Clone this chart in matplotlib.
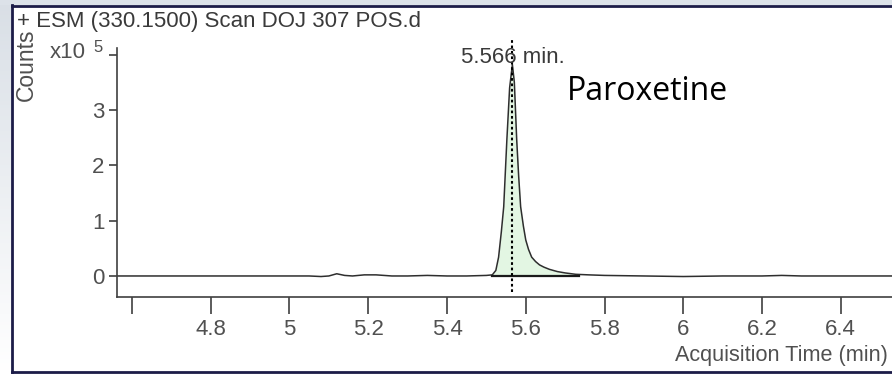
import matplotlib
matplotlib.use('Agg')
import matplotlib.pyplot as plt
import numpy as np

# chromatogram trace, time in minutes, counts in units of 1e5
times = [4.562, 4.7, 4.9, 5.0, 5.05, 5.08, 5.10, 5.12, 5.14, 5.16, 5.19, 5.22, 5.26,
         5.30, 5.35, 5.40, 5.45, 5.50, 5.515, 5.524, 5.531, 5.538, 5.544, 5.552, 5.559,
         5.566, 5.571, 5.577, 5.582, 5.587, 5.594, 5.600, 5.607, 5.615, 5.625, 5.635,
         5.646, 5.66, 5.68, 5.70, 5.727, 5.76, 5.80, 5.90, 6.00, 6.10, 6.20, 6.25, 6.30, 6.53]
counts = [0.0, 0.0, 0.0, 0.0, 0.0, -0.01, 0.0, 0.04, 0.01, 0.0, 0.02, 0.02, 0.0,
          0.0, 0.01, 0.0, 0.0, 0.01, 0.02, 0.1, 0.34, 0.8, 1.25, 2.46, 3.4,
          3.82, 3.5, 2.46, 1.8, 1.25, 0.9, 0.65, 0.48, 0.34, 0.26, 0.2,
          0.16, 0.12, 0.08, 0.055, 0.03, 0.02, 0.01, 0.0, -0.01, 0.0, 0.0, 0.01, 0.0, 0.0]

peak_rt = 5.566
peak_start = 5.515
peak_end = 5.735
compound = 'Paroxetine'

xticks = [4.6, 4.8, 5.0, 5.2, 5.4, 5.6, 5.8, 6.0, 6.2, 6.4]
xticklabels = ['', '4.8', '5', '5.2', '5.4', '5.6', '5.8', '6', '6.2', '6.4']
yticks = [0, 1, 2, 3, 4]
yticklabels = ['0', '1', '2', '3', '']

title = '+ ESM (330.1500) Scan DOJ 307 POS.d'
xlabel = 'Acquisition Time (min)'
ylabel = 'Counts'

W, H = 892, 374
grey = '#505050'
axcol = '#404040'
fs = 16

fig = plt.figure(figsize=(W / 100, H / 100), dpi=100)
fig.patch.set_facecolor('white')

# window chrome: light strip on top and left, navy frame
bg = fig.add_axes([0, 0, 1, 1], zorder=-5)
bg.set_xlim(0, W)
bg.set_ylim(H, 0)
bg.axis('off')
grad = np.linspace(0, 1, 100).reshape(-1, 1)
bg.imshow(grad, cmap=matplotlib.colors.LinearSegmentedColormap.from_list('g', ['#d9dfe6', '#ffffff']),
          extent=[0, 12, H, 0], aspect='auto')
bg.add_patch(plt.Rectangle((0, 0), W, 5, color='#dce2e9', lw=0))
bg.plot([12, W], [5.5, 5.5], color='#1c1c48', lw=2)
bg.plot([12, 12], [5, 372], color='#1c1c48', lw=2)
bg.plot([12, W], [371.5, 371.5], color='#1c1c48', lw=2)

fnt = 'Liberation Sans'
ax = fig.add_axes([117 / W, 1 - 297 / H, 1 - 117 / W, (297 - 48) / H])
ax.set_facecolor('none')
t = np.array(times)
c = np.array(counts)
tt = np.linspace(peak_start, peak_end, 200)
tp = np.interp(tt, t, c)
ax.fill_between(tt, 0, tp, color='#e3f6e3', lw=0)
ax.plot(t, c, color='#2e2e2e', lw=1.1)
ax.plot([peak_start, peak_end], [0, 0], color='#1a1a1a', lw=1.6)
ax.plot([peak_rt, peak_rt], [-0.29, 4.27], color='black', lw=1.5,
        linestyle=(0, (1.3, 1.3)), clip_on=False)
ax.text(peak_rt, 3.94, '5.566 min.', ha='center', va='center', fontsize=fs,
        family=fnt, color='#3a3a3a')
ax.text(5.704, 3.33, compound, ha='left', va='center', fontsize=23, family='Open Sans', color='black')

ax.set_xlim(4.562, 6.53)
ax.set_ylim(-0.38, 4.12)
for s in ['top', 'right']:
    ax.spines[s].set_visible(False)
for s in ['left', 'bottom']:
    ax.spines[s].set_color(axcol)
    ax.spines[s].set_linewidth(1.2)
ax.set_xticks(xticks)
ax.set_xticklabels(xticklabels)
ax.set_yticks(yticks)
ax.set_yticklabels(yticklabels)
ax.tick_params(axis='x', length=12, width=1.2, color=axcol, direction='out', pad=4, labelsize=fs, labelcolor=grey)
ax.tick_params(axis='y', length=6, width=1.2, color=axcol, direction='out', pad=3, labelsize=fs, labelcolor=grey)
for lab in ax.get_xticklabels() + ax.get_yticklabels():
    lab.set_family(fnt)

fig.text(17 / W, 1 - 21 / H, title, ha='left', va='center', fontsize=fs, family=fnt, color='#3a3a3a')
fig.text(26 / W, 1 - 65 / H, ylabel, ha='center', va='center', rotation=90, fontsize=fs + 0.5, family=fnt, color=grey)
fig.text(50 / W, 1 - 52 / H, 'x10', ha='left', va='center', fontsize=fs, family=fnt, color=grey)
fig.text(103 / W, 1 - 47 / H, '5', ha='right', va='center', fontsize=fs - 4, family=fnt, color=grey)
fig.text(888 / W, 1 - 355 / H, xlabel, ha='right', va='center', fontsize=15.6, family=fnt, color=grey)

plt.savefig('out.png', dpi=100)
